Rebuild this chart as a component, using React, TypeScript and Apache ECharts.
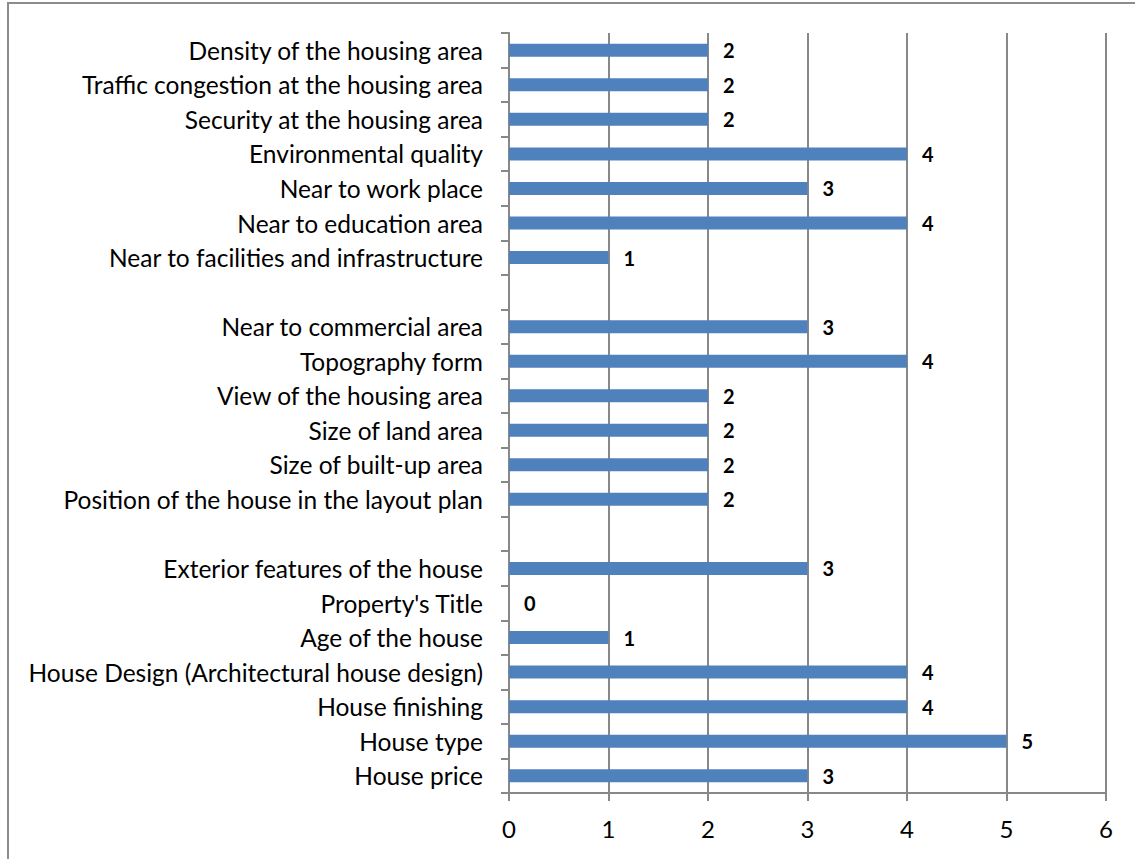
import React, { useEffect, useRef } from "react";
import * as echarts from "echarts";

const categories = [
  "House price",
  "House type",
  "House finishing",
  "House Design (Architectural house design)",
  "Age of the house",
  "Property's Title",
  "Exterior features of the house",
  "",
  "Position of the house in the layout plan",
  "Size of built-up area",
  "Size of land area",
  "View of the housing area",
  "Topography form",
  "Near to commercial area",
  " ",
  "Near to facilities and infrastructure",
  "Near to education area",
  "Near to work place",
  "Environmental quality",
  "Security at the housing area",
  "Traffic congestion at the housing area",
  "Density of the housing area",
];
const values: (number | null)[] = [3, 5, 4, 4, 1, 0, 3, null, 2, 2, 2, 2, 4, 3, null, 1, 4, 3, 4, 2, 2, 2];
const xTicks = [0, 1, 2, 3, 4, 5, 6];

export default function App() {
  const ref = useRef<HTMLDivElement>(null);
  useEffect(() => {
    if (!ref.current) return;
    const chart = echarts.init(ref.current, undefined, { renderer: "svg" });
    const font = "Lato, sans-serif";
    chart.setOption({
      animation: false,
      backgroundColor: "#fff",
      grid: { left: 509, right: 29, top: 33, bottom: 66, containLabel: false },
      xAxis: {
        type: "value",
        min: xTicks[0],
        max: xTicks[xTicks.length - 1],
        interval: 1,
        axisLine: { show: true, lineStyle: { color: "#888", width: 2 } },
        axisTick: { show: true, length: 8, lineStyle: { color: "#888", width: 2 } },
        splitLine: { show: true, lineStyle: { color: "#888", width: 2 } },
        axisLabel: { color: "#000", fontFamily: font, fontSize: 24, margin: 23 },
      },
      yAxis: {
        type: "category",
        data: categories,
        axisLine: { show: true, lineStyle: { color: "#888", width: 2 } },
        axisTick: { show: true, length: 8, lineStyle: { color: "#888", width: 2 } },
        axisLabel: { color: "#000", fontFamily: font, fontSize: 24.5, margin: 26, interval: 0 },
      },
      series: [
        {
          type: "bar",
          data: values,
          barWidth: 13,
          itemStyle: { color: "#4F81BD" },
          label: {
            show: true,
            position: "right",
            distance: 15,
            color: "#000",
            fontWeight: "bold",
            fontFamily: font,
            fontSize: 20,
          },
        },
      ],
      graphic: [
        {
          type: "rect",
          shape: { x: 8, y: 3, width: 1200, height: 900 },
          style: { fill: "none", stroke: "#8c8c8c", lineWidth: 2 },
          silent: true,
        },
      ],
    });
    return () => chart.dispose();
  }, []);
  return (
    <div
      ref={ref}
      style={{ position: "absolute", left: 0, top: 0, width: 1135, height: 859 }}
    />
  );
}
